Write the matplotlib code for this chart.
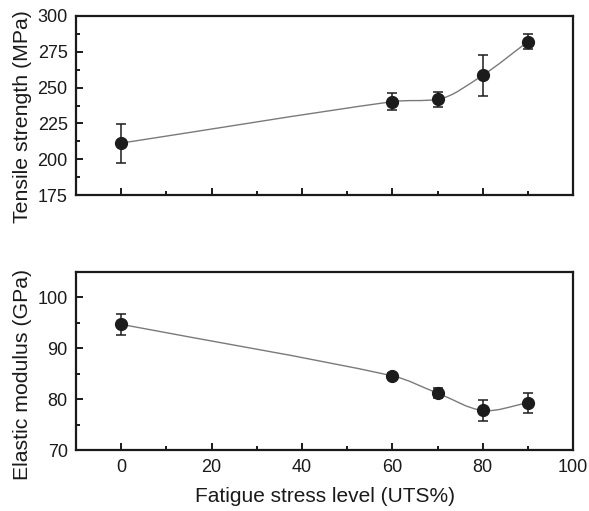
import numpy as np
import matplotlib.pyplot as plt
from matplotlib.path import Path
from matplotlib.patches import PathPatch
from matplotlib.ticker import MultipleLocator

plt.rcParams["font.family"] = ["Liberation Sans", "DejaVu Sans"]

stress = [0, 60, 70, 80, 90]
tensile = [211.3, 240.2, 241.8, 258.6, 282.0]
tensile_err = [13.6, 6.0, 5.0, 14.3, 5.0]
modulus = [94.7, 84.6, 81.2, 77.8, 79.3]
modulus_err = [2.0, 0.5, 1.0, 2.0, 2.0]

MARK = "#1c1c1c"
LINE = "#7a7a7a"
TXT = "#1a1a1a"


def smooth_path(x, y):
    # cubic hermite through the points, drawn as bezier segments
    x = np.asarray(x, float)
    y = np.asarray(y, float)
    h = np.diff(x)
    d = np.diff(y) / h
    m = np.zeros_like(y)
    m[0], m[-1] = d[0], d[-1]
    for i in range(1, len(x) - 1):
        m[i] = (h[i - 1] * d[i - 1] + h[i] * d[i]) / (h[i - 1] + h[i])
        if d[i - 1] * d[i] > 0:
            lim = 3 * min(abs(d[i - 1]), abs(d[i]))
            m[i] = np.sign(m[i]) * min(abs(m[i]), lim)
    verts = [(x[0], y[0])]
    codes = [Path.MOVETO]
    for i in range(len(x) - 1):
        verts += [
            (x[i] + h[i] / 3, y[i] + m[i] * h[i] / 3),
            (x[i + 1] - h[i] / 3, y[i + 1] - m[i + 1] * h[i] / 3),
            (x[i + 1], y[i + 1]),
        ]
        codes += [Path.CURVE4] * 3
    return Path(verts, codes)


def style_axes(ax):
    for s in ax.spines.values():
        s.set_linewidth(1.6)
        s.set_color(TXT)
    ax.tick_params(which="both", direction="in", top=False, right=False,
                   width=1.4, colors=TXT, labelsize=13, pad=6)
    ax.tick_params(which="major", length=5)
    ax.tick_params(which="minor", length=3)
    ax.set_xlim(-10, 100)
    ax.xaxis.set_major_locator(MultipleLocator(20))
    ax.xaxis.set_minor_locator(MultipleLocator(10))


fig = plt.figure(figsize=(5.89, 5.11), dpi=100)
ax1 = fig.add_axes([0.129, 0.618, 0.844, 0.351])
ax2 = fig.add_axes([0.129, 0.119, 0.844, 0.349])

for ax, vals, errs in [(ax1, tensile, tensile_err), (ax2, modulus, modulus_err)]:
    style_axes(ax)
    ax.add_patch(PathPatch(smooth_path(stress, vals), fill=False,
                           edgecolor=LINE, lw=1.0, zorder=2))
    ax.errorbar(stress, vals, yerr=errs, fmt="o", color=MARK, ms=8.5,
                ecolor=MARK, elinewidth=1.1, capsize=3.5, capthick=1.1,
                zorder=3)

ax1.set_ylim(175, 300)
ax1.yaxis.set_major_locator(MultipleLocator(25))
ax1.yaxis.set_minor_locator(MultipleLocator(12.5))
ax1.tick_params(axis="x", labelbottom=False)
ax1.set_ylabel("Tensile strength (MPa)", fontsize=15.3, color=TXT)
ax1.yaxis.set_label_coords(-0.0885, 0.439)

ax2.set_ylim(70, 105)
ax2.yaxis.set_major_locator(MultipleLocator(10))
ax2.yaxis.set_minor_locator(MultipleLocator(5))
ax2.set_ylabel("Elastic modulus (GPa)", fontsize=15.3, color=TXT)
ax2.yaxis.set_label_coords(-0.0885, 0.427)
ax2.set_xlabel("Fatigue stress level (UTS%)", fontsize=15, color=TXT,
               labelpad=8)

fig.savefig("out.png", dpi=100)
